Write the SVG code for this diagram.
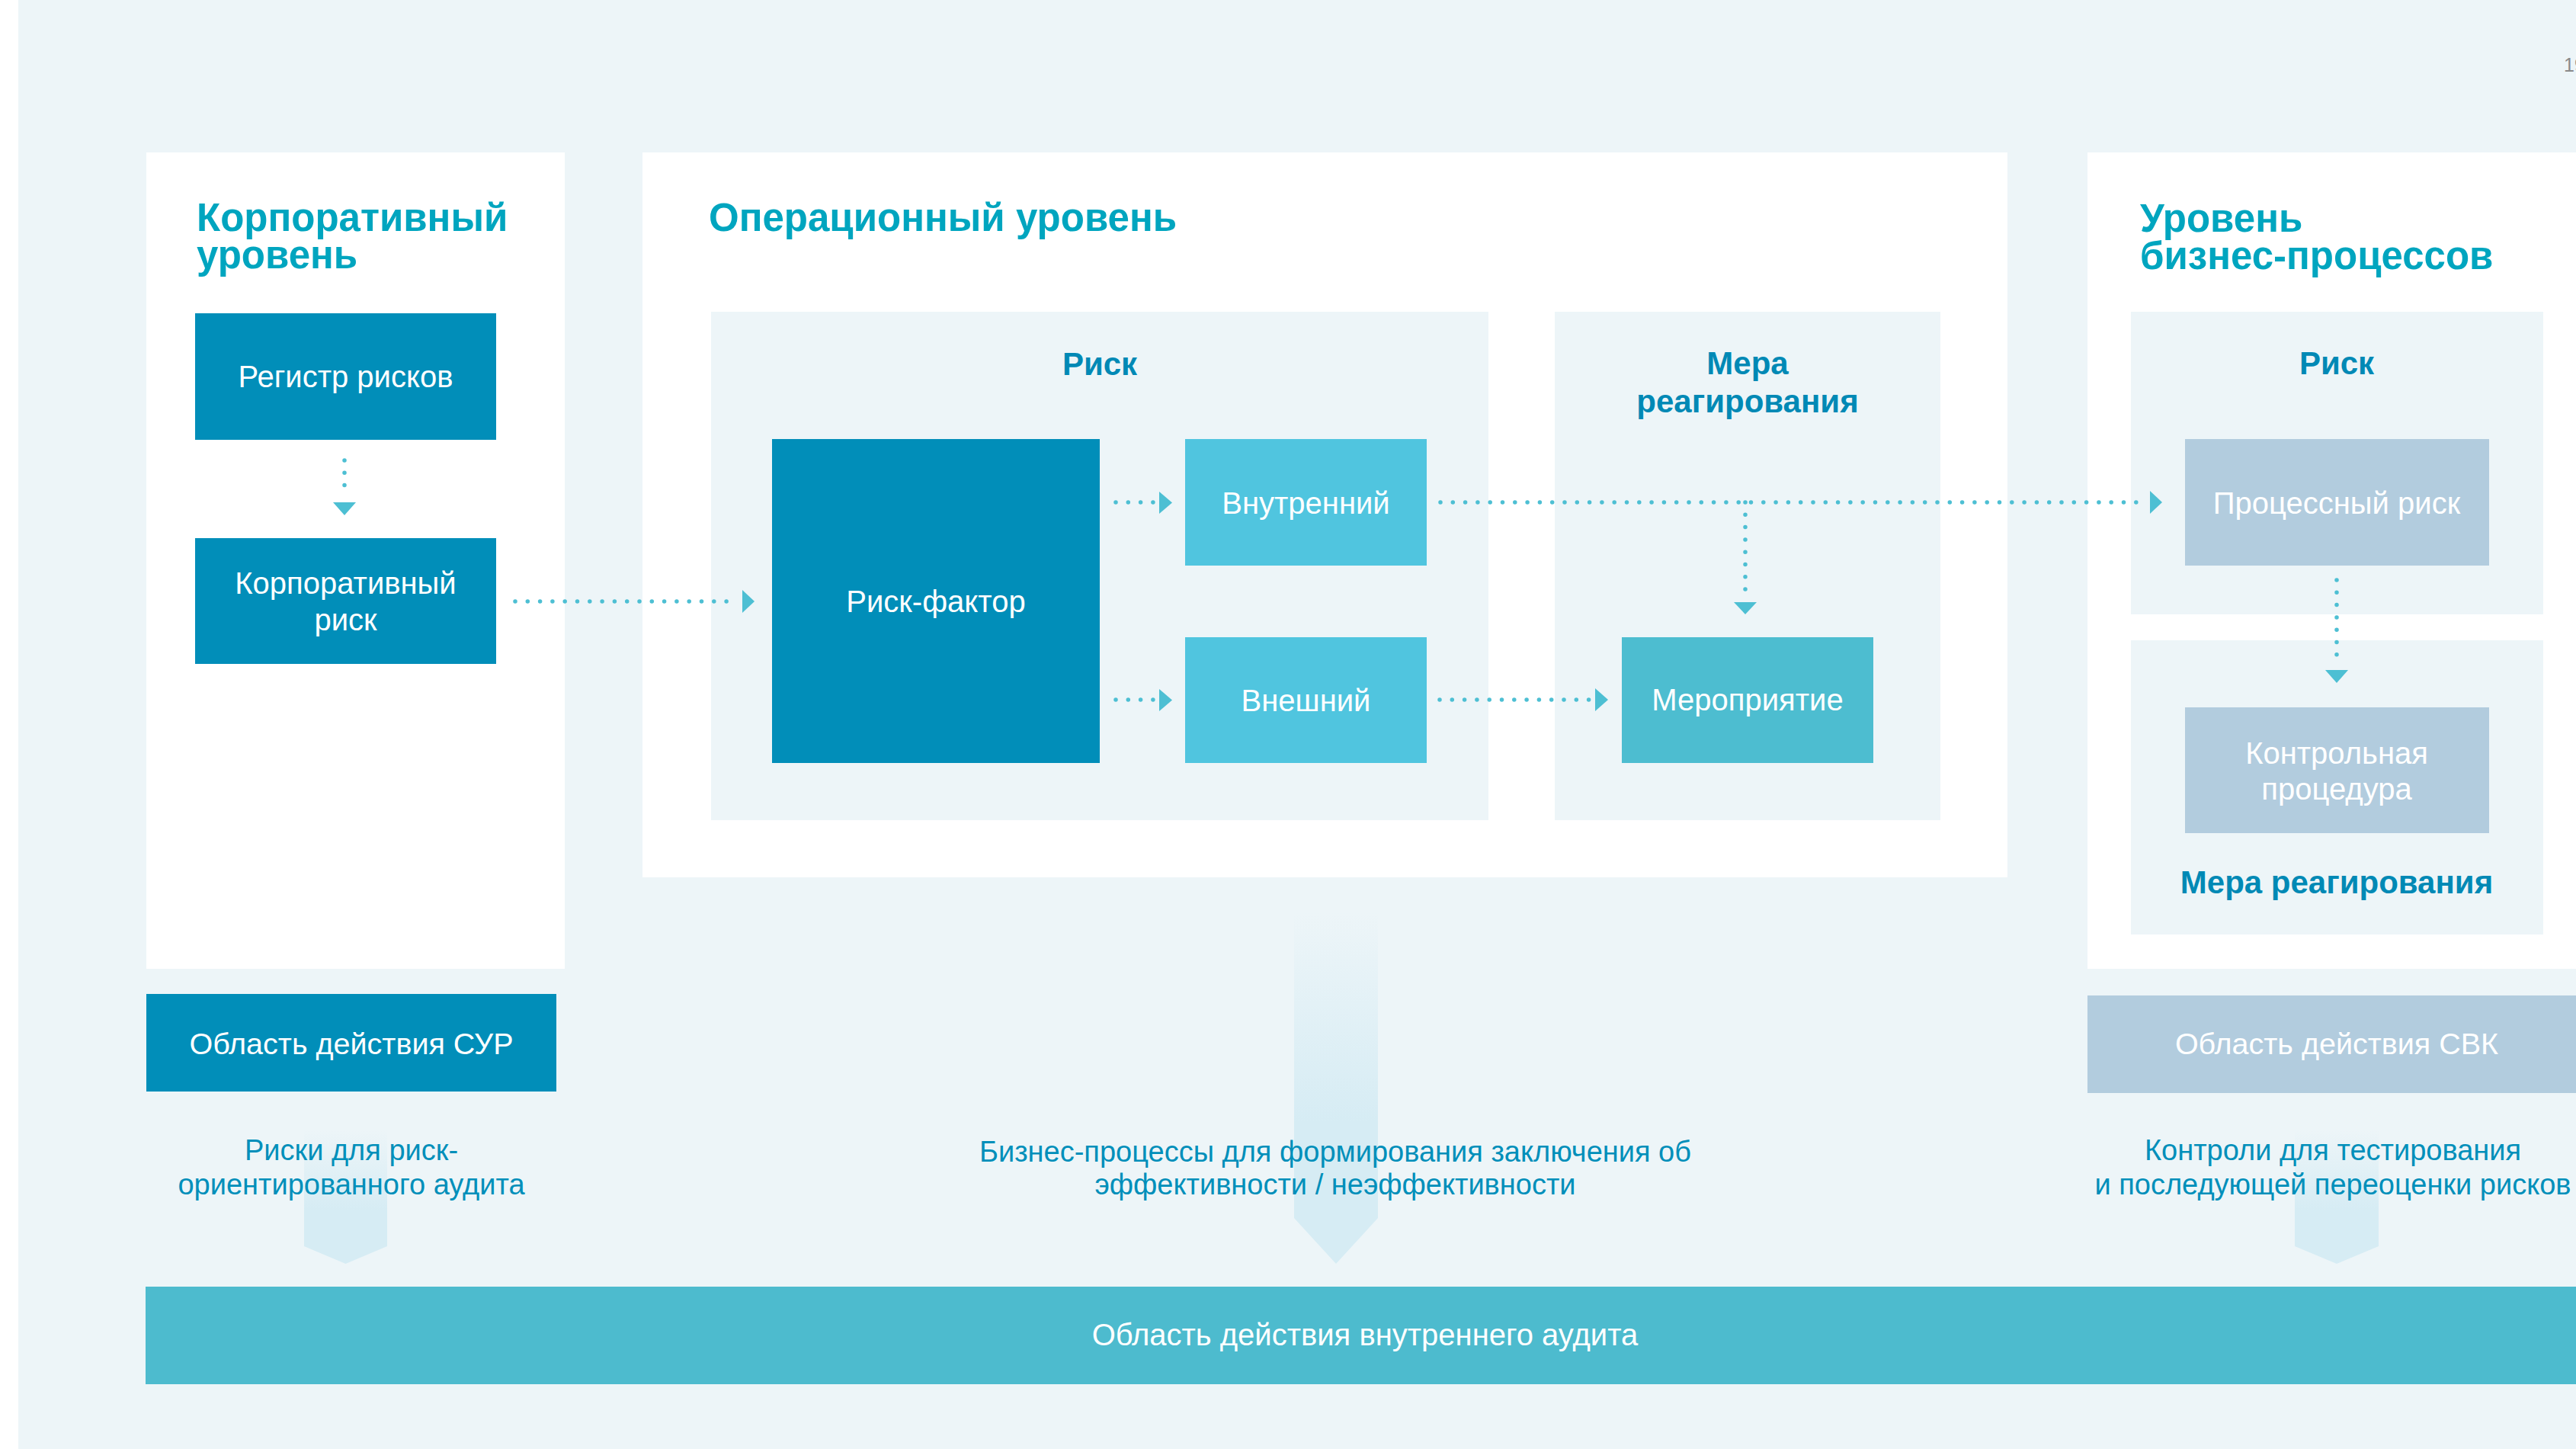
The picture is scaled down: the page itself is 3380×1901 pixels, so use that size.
<svg xmlns="http://www.w3.org/2000/svg" width="3380" height="1901" viewBox="0 0 3380 1901">
<defs>
<style>
.bg{fill:#EDF5F8}
.panel{fill:#FFFFFF}
.sub{fill:#EDF5F8}
.dark{fill:#018EB9}
.cyan{fill:#50C5DF}
.teal{fill:#4DBDD0}
.grey{fill:#B2CCDE}
.audit{fill:#4DBBCE}
text{font-family:"Liberation Sans",Arial,sans-serif}
.title{font-size:51px;font-weight:bold;fill:#00A5BF}
.lbl{font-size:42px;font-weight:bold;fill:#0089B5;text-anchor:middle}
.bx{font-size:40px;fill:#FFFFFF;text-anchor:middle}
.desc{font-size:38px;fill:#008FBA;text-anchor:middle}
.dot{fill:none;stroke:#4DBFD3;stroke-width:5.5;stroke-linecap:round;stroke-dasharray:0 16.3}
.head{fill:#4DBFD3}
</style>
<linearGradient id="fade" x1="0" y1="0" x2="0" y2="1">
<stop offset="0" stop-color="#D6ECF4" stop-opacity="0"/>
<stop offset="0.6" stop-color="#D6ECF4" stop-opacity="1"/>
<stop offset="1" stop-color="#D6ECF4" stop-opacity="1"/>
</linearGradient>
</defs>
<rect x="0" y="0" width="3380" height="1901" fill="#FFFFFF"/>
<rect class="bg" x="24" y="0" width="3356" height="1901"/>
<text x="3364" y="94" style="font-size:25px;fill:#8A8A8A">19</text>

<g id="fade-arrows">
<polygon fill="url(#fade)" points="399,1482 508,1482 508,1635 453.5,1658 399,1635"/>
<polygon fill="url(#fade)" points="1698,1196 1808,1196 1808,1598 1753,1658 1698,1598"/>
<polygon fill="url(#fade)" points="3011,1482 3121,1482 3121,1635 3066,1658 3011,1635"/>
</g>

<g id="panel-corporate">
<rect class="panel" x="192" y="200" width="549" height="1071"/>
<text class="title" x="258" y="303">Корпоративный</text>
<text class="title" x="258" y="352">уровень</text>
</g>
<g id="node-register">
<rect class="dark" x="256" y="411" width="395" height="166"/>
<text class="bx" x="453.5" y="508">Регистр рисков</text>
</g>
<g id="node-corp-risk">
<rect class="dark" x="256" y="706" width="395" height="165"/>
<text class="bx" x="453.5" y="779">Корпоративный</text>
<text class="bx" x="453.5" y="827">риск</text>
</g>

<g id="panel-operational">
<rect class="panel" x="843" y="200" width="1791" height="951"/>
<text class="title" x="930" y="303">Операционный уровень</text>
</g>
<g id="group-op-risk">
<rect class="sub" x="933" y="409" width="1020" height="667"/>
<text class="lbl" x="1443" y="492">Риск</text>
</g>
<g id="node-risk-factor">
<rect class="dark" x="1013" y="576" width="430" height="425"/>
<text class="bx" x="1228" y="803">Риск-фактор</text>
</g>
<g id="node-internal">
<rect class="cyan" x="1555" y="576" width="317" height="166"/>
<text class="bx" x="1713.5" y="674">Внутренний</text>
</g>
<g id="node-external">
<rect class="cyan" x="1555" y="836" width="317" height="165"/>
<text class="bx" x="1713.5" y="933">Внешний</text>
</g>
<g id="group-op-measure">
<rect class="sub" x="2040" y="409" width="506" height="667"/>
<text class="lbl" x="2293" y="491">Мера</text>
<text class="lbl" x="2293" y="541">реагирования</text>
</g>
<g id="node-event">
<rect class="teal" x="2128" y="836" width="330" height="165"/>
<text class="bx" x="2293" y="932">Мероприятие</text>
</g>

<g id="panel-business">
<rect class="panel" x="2739" y="200" width="641" height="1071"/>
<text class="title" x="2808" y="304">Уровень</text>
<text class="title" x="2808" y="353">бизнес-процессов</text>
</g>
<g id="group-bp-risk">
<rect class="sub" x="2796" y="409" width="541" height="397"/>
<text class="lbl" x="3066" y="491">Риск</text>
</g>
<g id="node-process-risk">
<rect class="grey" x="2867" y="576" width="399" height="166"/>
<text class="bx" x="3066" y="674">Процессный риск</text>
</g>
<g id="group-bp-measure">
<rect class="sub" x="2796" y="840" width="541" height="386"/>
<text class="lbl" x="3066" y="1172">Мера реагирования</text>
</g>
<g id="node-control">
<rect class="grey" x="2867" y="928" width="399" height="165"/>
<text class="bx" x="3066" y="1002">Контрольная</text>
<text class="bx" x="3066" y="1049">процедура</text>
</g>

<g id="node-sur">
<rect class="dark" x="192" y="1304" width="538" height="128"/>
<text class="bx" x="461" y="1383" style="font-size:39.5px">Область действия СУР</text>
</g>
<g id="node-svk">
<rect class="grey" x="2739" y="1306" width="641" height="128"/>
<text class="bx" x="3066" y="1383" style="font-size:39.5px">Область действия СВК</text>
</g>
<g id="note-sur">
<text class="desc" x="461" y="1522">Риски для риск-</text>
<text class="desc" x="461" y="1567">ориентированного аудита</text>
</g>
<g id="note-bp">
<text class="desc" x="1752" y="1524">Бизнес-процессы для формирования заключения об</text>
<text class="desc" x="1752" y="1567">эффективности / неэффективности</text>
</g>
<g id="note-svk">
<text class="desc" x="3061" y="1522">Контроли для тестирования</text>
<text class="desc" x="3061" y="1567">и последующей переоценки рисков</text>
</g>
<g id="node-audit">
<rect class="audit" x="191" y="1688" width="3189" height="128"/>
<text class="bx" x="1791" y="1765" style="font-size:40px">Область действия внутреннего аудита</text>
</g>

<g id="connectors">
<path class="dot" d="M452,604 V652"/>
<polygon class="head" points="437,659 467,659 452,676"/>
<path class="dot" d="M676,789 H966"/>
<polygon class="head" points="974,774 974,804 990,789"/>
<path class="dot" d="M1464,659 H1514"/>
<polygon class="head" points="1521,645 1521,674 1538,659.5"/>
<path class="dot" d="M1464,918 H1514"/>
<polygon class="head" points="1521,904 1521,933 1538,918.5"/>
<path class="dot" d="M1890,659 H2812"/>
<polygon class="head" points="2821,644 2821,674 2837,659"/>
<path class="dot" d="M2290,659 V781"/>
<polygon class="head" points="2275,790 2305,790 2290,806"/>
<path class="dot" d="M1889,918 H2087"/>
<polygon class="head" points="2093,903 2093,933 2110,918"/>
<path class="dot" d="M3066,761 V873"/>
<polygon class="head" points="3051,879 3081,879 3066,896"/>
</g>
</svg>
